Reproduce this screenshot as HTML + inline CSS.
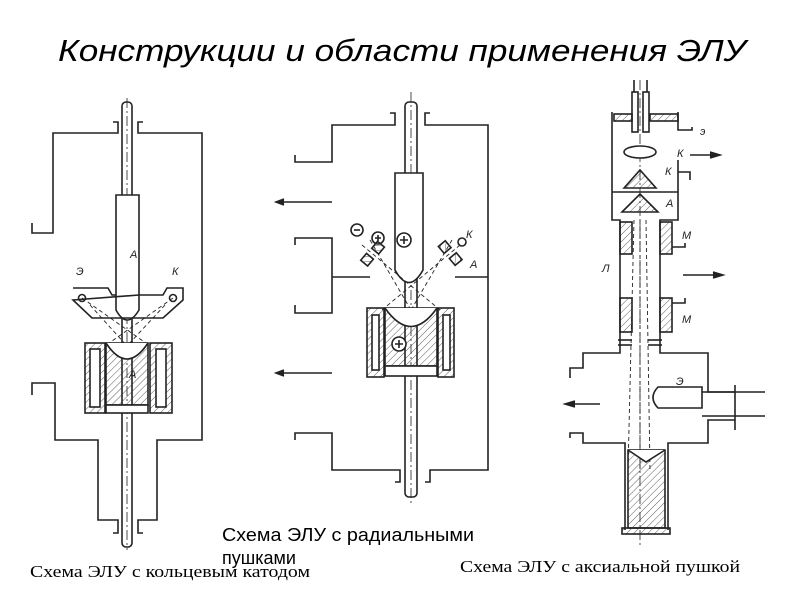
<!DOCTYPE html>
<html><head><meta charset="utf-8"><style>
html,body{margin:0;padding:0;background:#fff;width:800px;height:600px;overflow:hidden}
svg{display:block}
</style></head><body>
<svg width="800" height="600" viewBox="0 0 800 600" xmlns="http://www.w3.org/2000/svg">
<defs>
<pattern id="h" width="5" height="5" patternUnits="userSpaceOnUse" patternTransform="rotate(45)">
<line x1="0" y1="0" x2="0" y2="5" stroke="#333" stroke-width="0.8"/></pattern>
</defs>
<text x="58" y="61" font-family="Liberation Sans, sans-serif" font-style="italic" font-size="31" textLength="688" lengthAdjust="spacingAndGlyphs" fill="#000">Конструкции и области применения ЭЛУ</text>

<g fill="none" stroke="#222" stroke-width="1.6">
<!-- LEFT diagram -->
<rect x="122" y="102" width="10" height="445" rx="4" fill="#fff"/>
<line x1="127" y1="98" x2="127" y2="550" stroke-dasharray="10,3,2,3" stroke-width="0.8"/>
<polyline points="113,122 118,122 118,133 53,133 53,233 32,233 32,223"/>
<polyline points="143,122 138,122 138,133 202,133 202,440 157,440 157,520 138,520 138,533 143,533"/>
<polyline points="32,395 32,383 55,383 55,440 98,440 98,520 118,520 118,533 113,533"/>
<path d="M116,195 H139 V310 Q127,330 116,310 Z" fill="#fff"/>
<path d="M73,288 H108 L112,295 H116 M139,295 H163 L167,288 H183 V300 L163,318 H92 L73,300 Z"/>
<circle cx="82" cy="298" r="3.5"/><circle cx="173" cy="298" r="3.5"/>
<g stroke-dasharray="4,3" stroke-width="0.9"><line x1="82" y1="298" x2="150" y2="346"/><line x1="173" y1="298" x2="105" y2="346"/><line x1="90" y1="305" x2="127" y2="346"/><line x1="165" y1="305" x2="127" y2="346"/></g>
<rect x="106" y="343" width="42" height="62" fill="url(#h)"/>
<path d="M106,343 Q127,375 148,343" fill="#fff"/>
<rect x="85" y="343" width="20" height="70" fill="url(#h)"/>
<rect x="90" y="349" width="10" height="58" fill="#fff"/>
<rect x="150" y="343" width="22" height="70" fill="url(#h)"/>
<rect x="156" y="349" width="10" height="58" fill="#fff"/>
<rect x="106" y="405" width="42" height="8" fill="#fff"/>

<!-- MIDDLE diagram -->
<rect x="405" y="102" width="12" height="395" rx="4" fill="#fff"/>
<line x1="411" y1="92" x2="411" y2="505" stroke-dasharray="10,3,2,3" stroke-width="0.8"/>
<polyline points="390,113 395,113 395,125 332,125 332,162 295,162 295,155"/>
<polyline points="430,113 425,113 425,125 488,125 488,470 430,470 430,482 425,482"/>
<polyline points="295,245 295,238 332,238 332,313 295,313 295,305"/>
<polyline points="295,440 295,433 332,433 332,470 400,470 400,482 395,482"/>
<line x1="332" y1="277" x2="370" y2="277"/><line x1="455" y1="277" x2="488" y2="277"/>
<line x1="332" y1="202" x2="278" y2="202"/><path d="M284,199 L276,202 L284,205" fill="#222"/>
<line x1="332" y1="373" x2="278" y2="373"/><path d="M284,370 L276,373 L284,376" fill="#222"/>
<path d="M395,173 H423 V270 Q409,295 395,270 Z" fill="#fff"/>
<circle cx="404" cy="240" r="7"/><path d="M400,240 h8 M404,236 v8"/>
<rect x="363" y="255" width="9" height="9" fill="url(#h)" transform="rotate(40 367 259)"/>
<rect x="374" y="243" width="9" height="9" fill="url(#h)" transform="rotate(40 378 247)"/>
<rect x="440" y="243" width="9" height="9" fill="url(#h)" transform="rotate(-40 444 247)"/>
<rect x="451" y="255" width="9" height="9" fill="url(#h)" transform="rotate(-40 455 259)"/>
<circle cx="357" cy="230" r="6"/><path d="M354,230 h6"/>
<circle cx="378" cy="238" r="6"/><path d="M375,238 h6 M378,235 v6"/>
<circle cx="462" cy="242" r="4"/>
<g stroke-dasharray="4,3" stroke-width="0.9"><line x1="362" y1="245" x2="440" y2="310"/><line x1="370" y1="240" x2="411" y2="310"/><line x1="460" y1="245" x2="382" y2="310"/><line x1="452" y1="240" x2="411" y2="310"/></g>
<rect x="385" y="308" width="52" height="58" fill="url(#h)"/>
<path d="M385,308 Q411,345 437,308" fill="#fff"/>
<circle cx="399" cy="344" r="7" fill="#fff"/><path d="M395,344 h8 M399,340 v8"/>
<rect x="367" y="308" width="17" height="69" fill="url(#h)"/>
<rect x="372" y="315" width="7" height="55" fill="#fff"/>
<rect x="438" y="308" width="16" height="69" fill="url(#h)"/>
<rect x="443" y="315" width="7" height="55" fill="#fff"/>
<rect x="385" y="366" width="52" height="10" fill="#fff"/>

<!-- RIGHT diagram -->
<line x1="640" y1="80" x2="640" y2="545" stroke-dasharray="10,3,2,3" stroke-width="0.8"/>
<rect x="632" y="92" width="6" height="40" fill="#fff"/><rect x="643" y="92" width="6" height="40" fill="#fff"/>
<line x1="634" y1="80" x2="634" y2="92"/><line x1="647" y1="80" x2="647" y2="92"/>
<rect x="614" y="114" width="18" height="7" fill="url(#h)"/><rect x="650" y="114" width="28" height="7" fill="url(#h)"/>
<polyline points="612,112 612,220 620,220 620,353 583,353 583,368 570,368 570,378"/>
<polyline points="678,112 678,130 692,130 692,127"/>
<polyline points="678,160 678,220 660,220 660,353 708,353 708,392 735,392"/>
<polyline points="690,180 690,172 678,172"/>
<line x1="612" y1="192" x2="678" y2="192"/>
<path d="M624,188 L640,170 L656,188 Z" fill="url(#h)"/>
<path d="M622,212 L640,194 L658,212 Z" fill="url(#h)"/>
<ellipse cx="640" cy="152" rx="16" ry="6" fill="#fff"/>
<g stroke-dasharray="4,3" stroke-width="0.9"><line x1="634" y1="220" x2="628" y2="470"/><line x1="646" y1="220" x2="650" y2="470"/><line x1="640" y1="220" x2="640" y2="470"/></g>
<rect x="620" y="222" width="12" height="32" fill="url(#h)"/><rect x="660" y="222" width="12" height="32" fill="url(#h)"/>
<rect x="620" y="298" width="12" height="34" fill="url(#h)"/><rect x="660" y="298" width="12" height="34" fill="url(#h)"/>
<polyline points="672,247 685,247 685,243"/><polyline points="672,303 685,303 685,298"/>
<line x1="618" y1="340" x2="632" y2="340"/><line x1="618" y1="345" x2="632" y2="345"/>
<line x1="648" y1="340" x2="662" y2="340"/><line x1="648" y1="345" x2="662" y2="345"/>
<line x1="690" y1="155" x2="715" y2="155"/><path d="M710,152 L720,155 L710,158" fill="#222"/>
<line x1="683" y1="275" x2="718" y2="275"/><path d="M713,272 L723,275 L713,278" fill="#222"/>
<line x1="600" y1="404" x2="570" y2="404"/><path d="M575,401 L565,404 L575,407" fill="#222"/>
<polyline points="570,438 570,433 583,433 583,443 625,443 625,530"/>
<polyline points="735,420 708,420 708,443 668,443 668,530"/>
<line x1="735" y1="385" x2="735" y2="430"/>
<path d="M702,392 H765 M702,416 H765" />
<path d="M658,387 H702 V408 H658 Q648,397.5 658,387 Z" fill="#fff"/>
<rect x="628" y="450" width="37" height="78" fill="url(#h)"/>
<path d="M628,450 L646,462 L665,450" fill="#fff"/>
<rect x="622" y="528" width="48" height="6" fill="url(#h)"/>
</g>

<g font-family="Liberation Sans, sans-serif" font-style="italic" font-size="11" fill="#222">
<text x="130" y="258">A</text><text x="76" y="275">Э</text><text x="172" y="275">К</text><text x="129" y="378">A</text>
<text x="466" y="238">К</text><text x="470" y="268">A</text>
<text x="677" y="157">К</text><text x="665" y="175">К</text><text x="666" y="207">A</text>
<text x="682" y="239">М</text><text x="682" y="323">М</text><text x="602" y="272">Л</text><text x="676" y="385">Э</text>
<text x="700" y="135">э</text>
</g>
<text x="30" y="577" font-family="Liberation Serif, serif" font-size="17" textLength="280" lengthAdjust="spacingAndGlyphs" fill="#000">Схема ЭЛУ с кольцевым катодом</text>
<text x="222" y="541" font-family="Liberation Sans, sans-serif" font-size="18" textLength="252" lengthAdjust="spacingAndGlyphs" fill="#000">Схема ЭЛУ с радиальными</text>
<text x="222" y="564" font-family="Liberation Sans, sans-serif" font-size="18" fill="#000">пушками</text>
<text x="460" y="572" font-family="Liberation Serif, serif" font-size="17" textLength="280" lengthAdjust="spacingAndGlyphs" fill="#000">Схема ЭЛУ с аксиальной пушкой</text>
</svg>
</body></html>
